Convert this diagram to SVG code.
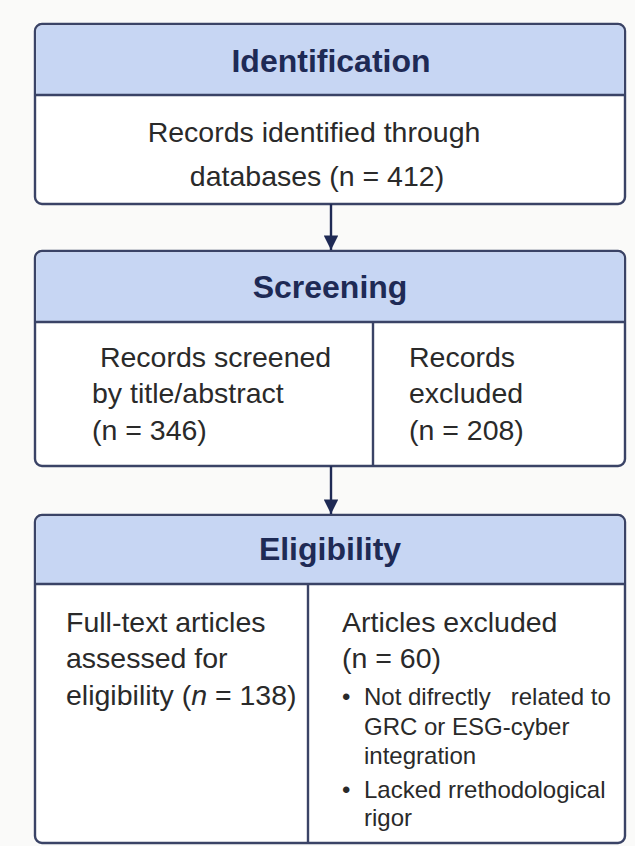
<svg xmlns="http://www.w3.org/2000/svg" width="635" height="846" viewBox="0 0 635 846">
<style>
.frame{fill:#ffffff;stroke:#3a4366;stroke-width:2.4}
.head{fill:#c7d6f3}
.rule{stroke:#3a4366;stroke-width:2.4;fill:none}
.title{font-family:"Liberation Sans",Arial,sans-serif;font-weight:bold;font-size:32px;fill:#1e2a55;text-anchor:middle}
.body{font-family:"Liberation Sans",Arial,sans-serif;font-size:28.5px;fill:#2a2a2a}
.bul{font-family:"Liberation Sans",Arial,sans-serif;font-size:24px;fill:#2a2a2a}
.conn{stroke:#1f2a55;stroke-width:2.4;fill:none}
</style>
<defs>
<marker id="ah" viewBox="0 0 10 10" refX="10" refY="5" markerWidth="6.5" markerHeight="6" markerUnits="strokeWidth" orient="auto">
<path d="M0,0 L10,5 L0,10 z" fill="#1f2a55"/>
</marker>
</defs>
<rect x="0" y="0" width="635" height="846" fill="#fafaf9"/>

<g id="identification">
<rect class="frame" x="35" y="24" width="590" height="180" rx="7"/>
<path class="head" d="M42,25.2 H618 A6,6 0 0 1 623.8,31 V95 H36.2 V31 A6,6 0 0 1 42,25.2 z"/>
<line class="rule" x1="35" y1="95" x2="625" y2="95"/>
<text class="title" x="331" y="72">Identification</text>
<text class="body" x="314" y="142" text-anchor="middle">Records identified through</text>
<text class="body" x="317" y="186" text-anchor="middle">databases (n = 412)</text>
</g>

<g id="screening">
<rect class="frame" x="35" y="251" width="590" height="215" rx="7"/>
<path class="head" d="M42,252.2 H618 A6,6 0 0 1 623.8,258 V322 H36.2 V258 A6,6 0 0 1 42,252.2 z"/>
<line class="rule" x1="35" y1="322" x2="625" y2="322"/>
<line class="rule" x1="373" y1="322" x2="373" y2="466"/>
<text class="title" x="330" y="298">Screening</text>
<text class="body" xml:space="preserve" x="92" y="367"> Records screened</text>
<text class="body" x="92" y="403">by title/abstract</text>
<text class="body" x="92" y="440">(n = 346)</text>
<text class="body" x="409" y="367">Records</text>
<text class="body" x="409" y="403">excluded</text>
<text class="body" x="409" y="440">(n = 208)</text>
</g>

<g id="eligibility">
<rect class="frame" x="35" y="515" width="590" height="328" rx="7"/>
<path class="head" d="M42,516.2 H618 A6,6 0 0 1 623.8,522 V584 H36.2 V522 A6,6 0 0 1 42,516.2 z"/>
<line class="rule" x1="35" y1="584" x2="625" y2="584"/>
<line class="rule" x1="308" y1="584" x2="308" y2="843"/>
<text class="title" x="330" y="560">Eligibility</text>
<text class="body" x="66" y="632">Full-text articles</text>
<text class="body" x="66" y="668">assessed for</text>
<text class="body" x="66" y="705">eligibility (<tspan font-style="italic">n</tspan> = 138)</text>
<text class="body" x="342" y="632">Articles excluded</text>
<text class="body" x="342" y="668">(n = 60)</text>
<text class="bul" x="342" y="705">•</text>
<text class="bul" xml:space="preserve" x="364" y="705">Not difrectly   related to</text>
<text class="bul" x="364" y="735">GRC or ESG-cyber</text>
<text class="bul" x="364" y="764">integration</text>
<text class="bul" x="342" y="798">•</text>
<text class="bul" x="364" y="798">Lacked rrethodological</text>
<text class="bul" x="364" y="826">rigor</text>
</g>

<g id="connectors">
<line class="conn" x1="331" y1="204" x2="331" y2="250" marker-end="url(#ah)"/>
<line class="conn" x1="331" y1="466" x2="331" y2="514" marker-end="url(#ah)"/>
</g>
</svg>
